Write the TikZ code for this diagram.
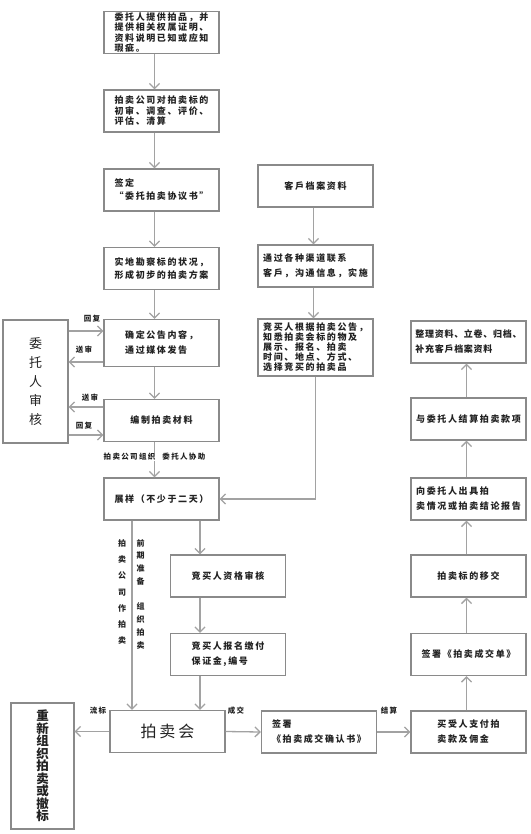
\documentclass[tikz,border=0pt]{standalone}
\usepackage{fontspec}
\newfontfamily\cjk[LetterSpace=18]{Noto Sans CJK SC}
\newfontfamily\cjktight[LetterSpace=8]{Noto Sans CJK SC}
\newfontfamily\cjkplain{Noto Sans CJK SC}
\usepackage{tikz}
\usetikzlibrary{arrows.meta}
\definecolor{boxgray}{HTML}{8A8A8A}
\definecolor{linegray}{HTML}{A2A2A2}
\definecolor{inkgray}{HTML}{222222}
\tikzset{
  procbox/.style={draw=boxgray, line width=1.3pt, fill=white, text=inkgray,
    minimum width=115pt, minimum height=42pt, inner xsep=3pt, inner ysep=2pt,
    align=left, font=\cjk\fontsize{9}{11}\selectfont\bfseries},
  tallbox/.style={procbox, align=center, minimum height=123pt, minimum width=65pt},
  flowline/.style={draw=linegray, line width=1.3pt},
  flowarrow/.style={flowline, -{Straight Barb[length=5pt,width=10pt]}},
  tag/.style={font=\cjk\fontsize{7.5}{9}\selectfont\bfseries, inner sep=0pt, text=inkgray},
  coltag/.style={tag, align=center},
}

\begin{document}
\begin{tikzpicture}[x=1pt, y=-1pt]
    \fill[white] (0,0) rectangle (530,834);
    \useasboundingbox (0,0) rectangle (530,834);

    % left column
    \node[procbox, inner ysep=1pt, font=\cjk\fontsize{9}{10.5}\selectfont\bfseries] (entrust) at (161.5,32.5)
        {委托人提供拍品，并\\提供相关权属证明、\\资料说明已知或应知\\瑕疵。};
    \node[procbox, font=\cjk\fontsize{9}{10.5}\selectfont\bfseries] (review) at (161.5,111)
        {拍卖公司对拍卖标的\\初审、调查、评价、\\评估、清算};
    \node[procbox, font=\cjk\fontsize{9}{13}\selectfont\bfseries] (sign) at (161.5,190)
        {签定\\“委托拍卖协议书”};
    \node[procbox, font=\cjk\fontsize{9}{13}\selectfont\bfseries] (survey) at (161.5,268.5)
        {实地勘察标的状况，\\形成初步的拍卖方案};
    \node[procbox, minimum height=47pt, font=\cjk\fontsize{9}{15}\selectfont\bfseries] (notice) at (161.5,343)
        {确定公告内容，\\通过媒体发告};
    \node[procbox] (material) at (161.5,420.5) {编制拍卖材料};
    \node[procbox] (display) at (161.5,499) {展样（不少于二天）};
    \node[tallbox, font=\cjkplain\fontsize{13}{19}\selectfont] (client) at (35.5,381.5)
        {委\\托\\人\\审\\核};

    % buyers branch
    \node[procbox] (qualify) at (228,576) {竞买人资格审核};
    \node[procbox, font=\cjk\fontsize{9}{15}\selectfont\bfseries] (register) at (228,654.5)
        {竞买人报名缴付\\保证金,编号};
    \node[procbox, font=\cjk\fontsize{16}{18}\selectfont] (auction) at (167.5,731.5) {拍卖会};
    \node[tallbox, minimum width=63pt, minimum height=126pt,
        font=\cjkplain\fontsize{12.5}{12.5}\selectfont\bfseries] (reorg) at (42.5,766)
        {重\\新\\组\\织\\拍\\卖\\或\\撤\\标};

    % middle column
    \node[procbox] (archive) at (315.5,186) {客戶档案资料};
    \node[procbox, font=\cjk\fontsize{9}{15}\selectfont\bfseries] (contact) at (315.5,266)
        {通过各种渠道联系\\客戶，沟通信息，实施};
    \node[procbox, minimum height=57pt, font=\cjk\fontsize{9}{10}\selectfont\bfseries] (bidinfo) at (315.5,347.5)
        {竞买人根据拍卖公告，\\知悉拍卖会标的物及\\展示、报名、拍卖\\时间、地点、方式、\\选择竞买的拍卖品};

    % right column
    \node[procbox, inner xsep=1pt, font=\cjktight\fontsize{9}{15}\selectfont\bfseries] (tidy) at (468.5,342)
        {整理资料、立卷、归档、\\补充客戶档案资料};
    \node[procbox, inner xsep=1pt] (settle) at (468.5,419) {与委托人结算拍卖款项};
    \node[procbox, inner xsep=1pt, font=\cjk\fontsize{9}{15}\selectfont\bfseries] (report) at (468.5,499)
        {向委托人出具拍\\卖情况或拍卖结论报告};
    \node[procbox] (handover) at (468.5,576) {拍卖标的移交};
    \node[procbox] (dealsheet) at (468.5,654.5) {签署《拍卖成交单》};
    \node[procbox, font=\cjk\fontsize{9}{15}\selectfont\bfseries] (buyerpay) at (468.5,732)
        {买受人支付拍\\卖款及佣金};
    \node[procbox, font=\cjk\fontsize{9}{15}\selectfont\bfseries] (confirm) at (319,732)
        {签署\\《拍卖成交确认书》};

    % main flow
    \foreach \a/\b in {entrust/review, review/sign, sign/survey, survey/notice,
                       notice/material, material/display}
        \draw[flowarrow] ([xshift=-7pt]\a.south) -- ([xshift=-7pt]\b.north);
    \foreach \a/\b in {archive/contact, contact/bidinfo}
        \draw[flowarrow] ([xshift=-2pt]\a.south) -- ([xshift=-2pt]\b.north);
    \foreach \a/\b in {buyerpay/dealsheet, dealsheet/handover, handover/report,
                       report/settle, settle/tidy}
        \draw[flowarrow] ([xshift=-2pt]\a.north) -- ([xshift=-2pt]\b.south);
    \draw[flowarrow] (bidinfo.south) |- (display.east);

    % review loop with the consignor
    \coordinate (n1) at ([yshift=12pt]notice.west);
    \coordinate (n2) at ([yshift=-19pt]notice.west);
    \coordinate (m1) at ([yshift=13.5pt]material.west);
    \coordinate (m2) at ([yshift=-14.5pt]material.west);
    \draw[flowarrow] (client.east |- n1) -- (n1);
    \draw[flowarrow] (n2) -- (client.east |- n2);
    \draw[flowarrow] (m1) -- (client.east |- m1);
    \draw[flowarrow] (client.east |- m2) -- (m2);
    \node[tag] (reply1) at (92,319) {回复};
    \node[tag] (send1) at (84,350) {送审};
    \node[tag] (send2) at (90,398) {送审};
    \node[tag] (reply2) at (84,426) {回复};
    \node[tag, fill=white, inner xsep=1pt] (helper) at (154.5,457) {拍卖公司组织\hspace{7pt}委托人协助};

    % down to the auction
    \draw[flowarrow] ([xshift=-29.5pt]display.south) -- ([xshift=-35.5pt]auction.north);
    \draw[flowarrow] ([xshift=38.5pt]display.south) -- ([xshift=-28pt]qualify.north);
    \draw[flowarrow] ([xshift=-28pt]qualify.south) -- ([xshift=-28pt]register.north);
    \draw[flowarrow] ([xshift=-28pt]register.south) -- ([xshift=32.5pt]auction.north);
    \node[coltag, font=\cjk\fontsize{8}{16.3}\selectfont\bfseries] (company) at (122,592)
        {拍\\卖\\公\\司\\作\\拍\\卖};
    \node[coltag, font=\cjk\fontsize{8}{12.75}\selectfont\bfseries] (prepare) at (140.7,594)
        {前\\期\\准\\备\\[12.75pt]组\\织\\拍\\卖};

    % after the auction
    \draw[flowarrow] (auction.west) -- (reorg.east |- auction.west);
    \draw[flowarrow] (auction.east) -- (confirm.west);
    \draw[flowarrow] (confirm.east) -- (buyerpay.west);
    \node[tag] (fail) at (98,711) {流标};
    \node[tag] (deal) at (236,711) {成交};
    \node[tag] (pay) at (389,711) {结算};
\end{tikzpicture}
\end{document}
